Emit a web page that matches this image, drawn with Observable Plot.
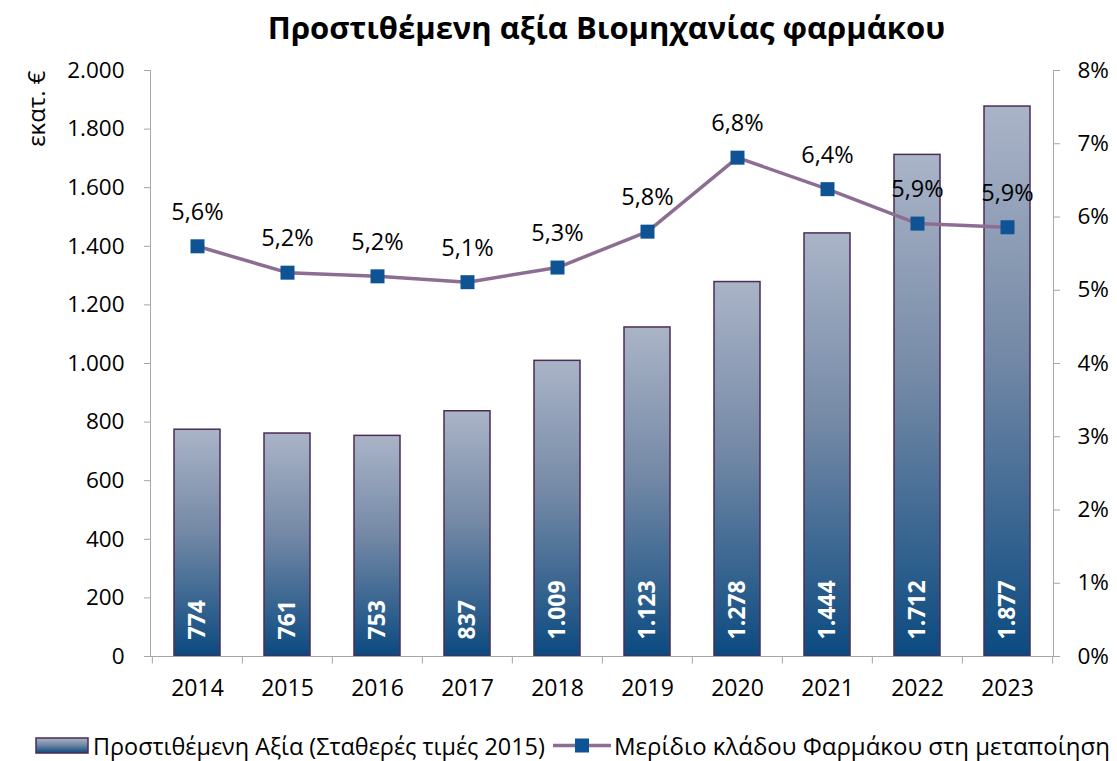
<!DOCTYPE html>
<html><head><meta charset="utf-8">
<script src="https://cdn.jsdelivr.net/npm/d3@7"></script>
<script src="https://cdn.jsdelivr.net/npm/@observablehq/plot@0.6"></script>
<style>
body{margin:0;background:#fff;font-family:"Open Sans",sans-serif;color:#000;width:1117px;}
#title{height:50px;line-height:54px;font-size:31px;font-weight:bold;text-align:center;padding-left:96px;}
#chart svg{display:block;}
#legend{position:relative;height:31px;font-size:24px;}
#legend .it{position:absolute;top:0;height:31px;display:flex;align-items:center;white-space:nowrap;}
</style></head><body>
<div id="title">Προστιθέμενη αξία Βιομηχανίας φαρμάκου</div>
<div id="chart"></div>
<div id="legend">
  <div class="it" style="left:35px;"><svg width="55" height="17"><defs><linearGradient id="lg" x1="0" y1="0" x2="0" y2="1"><stop offset="0" stop-color="#AAB4C7"/><stop offset="0.45" stop-color="#7489A6"/><stop offset="1" stop-color="#0B4A80"/></linearGradient></defs><rect x="1" y="1" width="52" height="15" fill="url(#lg)" stroke="#4B2D55" stroke-width="1.5"/></svg><span style="margin-left:3px;font-size:23.4px">Προστιθέμενη Αξία (Σταθερές τιμές 2015)</span></div>
  <div class="it" style="left:553px;"><svg width="58" height="17"><line x1="0" x2="58" y1="8.5" y2="8.5" stroke="#8D6E93" stroke-width="3.5"/><rect x="22" y="1.5" width="14" height="14" fill="#0E5394"/></svg><span style="margin-left:3px">Μερίδιο κλάδου Φαρμάκου στη μεταποίηση</span></div>
</div>
<script>
// Data
const years = ["2014","2015","2016","2017","2018","2019","2020","2021","2022","2023"];
const values = [774, 761, 753, 837, 1009, 1123, 1278, 1444, 1712, 1877];
const shares = [5.6, 5.24, 5.19, 5.11, 5.31, 5.8, 6.81, 6.38, 5.91, 5.86];
const leftTicks = [0, 200, 400, 600, 800, 1000, 1200, 1400, 1600, 1800, 2000];
const rightTicks = [0, 1, 2, 3, 4, 5, 6, 7, 8];
const yLabel = "εκατ. €";

const loc = d3.formatLocale({decimal: ",", thousands: ".", grouping: [3], currency: ["", "€"]});
const fmtInt = loc.format(",");
const fmtPct = loc.format(".1f");
const k = 2000 / 8; // right axis (%) mapped onto left axis range

const data = years.map((y, i) => ({year: y, value: values[i], share: shares[i]}));

const W = 1117, mL = 150, mR = 64;
const step = (W - mL - mR) / years.length;

const plot = Plot.plot({
  width: W, height: 680,
  marginTop: 20, marginLeft: mL, marginRight: mR, marginBottom: 74,
  style: {fontFamily: "Open Sans", fontSize: "20px", color: "#000", background: "#fff", overflow: "visible"},
  x: {domain: years, paddingInner: 0.49, paddingOuter: 0.245},
  y: {domain: [0, 2000]},
  marks: [
    Plot.barY(data, {x: "year", y: "value", fill: "url(#barGrad)", stroke: "#4B2D55", strokeWidth: 1.5}),
    Plot.frame({anchor: "left", stroke: "#a6a6a6"}),
    Plot.frame({anchor: "right", stroke: "#a6a6a6"}),
    Plot.frame({anchor: "bottom", stroke: "#a6a6a6"}),
    Plot.axisY(leftTicks, {anchor: "left", tickSize: 6, tickPadding: 20, tickFormat: fmtInt, stroke: "#a6a6a6", fontSize: 22.5, label: null}),
    Plot.axisY(rightTicks.map(d => d * k), {anchor: "right", tickSize: 6, tickPadding: 18, tickFormat: d => (d / k) + "%", stroke: "#a6a6a6", fontSize: 22.5, label: null}),
    Plot.axisX({tickSize: 0, tickPadding: 23, fontSize: 23, label: null}),
    Plot.ruleX(years, {x: d => d, y1: 0, y2: -26, dx: -step / 2, stroke: "#a6a6a6"}),
    Plot.ruleX(years.slice(-1), {x: d => d, y1: 0, y2: -26, dx: step / 2, stroke: "#a6a6a6"}),
    Plot.text([yLabel], {frameAnchor: "top-left", dx: -123, rotate: -90, textAnchor: "end", fontSize: 24}),
    Plot.text(data, {x: "year", y: 0, text: d => fmtInt(d.value), rotate: -90, textAnchor: "start", dy: -17, fill: "white", fontWeight: "bold", fontSize: 23}),
    Plot.line(data, {x: "year", y: d => d.share * k, stroke: "#8D6E93", strokeWidth: 3.5}),
    Plot.dot(data, {x: "year", y: d => d.share * k, symbol: "square", r: 7.9, fill: "#0E5394", stroke: "none"}),
    Plot.text(data, {x: "year", y: d => d.share * k, text: d => fmtPct(d.share) + "%", dy: -34, fontSize: 23.5})
  ]
});

d3.select(plot).insert("defs", ":first-child").html(
  '<linearGradient id="barGrad" x1="0" y1="0" x2="0" y2="1">' +
  '<stop offset="0" stop-color="#AAB4C7"/><stop offset="0.45" stop-color="#7489A6"/><stop offset="1" stop-color="#0B4A80"/>' +
  '</linearGradient>');

document.getElementById("chart").appendChild(plot);
</script>
</body></html>
